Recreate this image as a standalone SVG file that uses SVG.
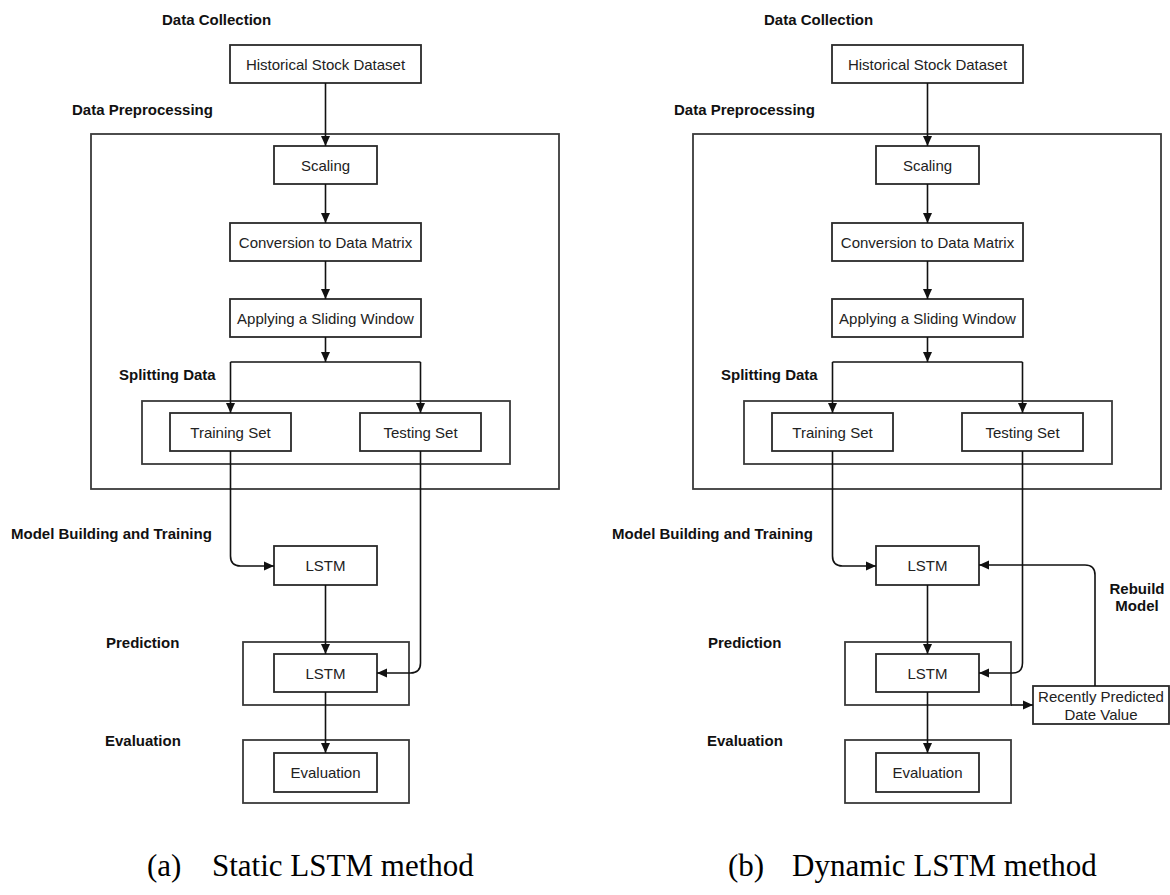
<svg xmlns="http://www.w3.org/2000/svg" width="1170" height="895" viewBox="0 0 1170 895">
<defs>
<marker id="ah" markerUnits="userSpaceOnUse" markerWidth="10" markerHeight="10" refX="10" refY="5" orient="auto">
<path d="M0,0.5 L10,5 L0,9.5 z" fill="#111"/>
</marker>
<style>
.box{fill:#fff;stroke:#2a2a2a;stroke-width:1.8}
.grp{fill:none;stroke:#3a3a3a;stroke-width:1.8}
.t{font-family:"Liberation Sans",Arial,sans-serif;font-size:15px;fill:#222;text-anchor:middle}
.lbl{font-family:"Liberation Sans",Arial,sans-serif;font-size:15px;font-weight:bold;fill:#111}
.cap{font-family:"Liberation Serif","Times New Roman",serif;font-size:31px;fill:#000}
.c{fill:none;stroke:#111;stroke-width:1.6}
.ca{fill:none;stroke:#111;stroke-width:1.6;marker-end:url(#ah)}
</style>
</defs>
<rect width="1170" height="895" fill="#fff"/>

<!-- Panel (a) -->
<g id="a-labels">
<text class="lbl" x="162" y="25">Data Collection</text>
<text class="lbl" x="72" y="115">Data Preprocessing</text>
<text class="lbl" x="119" y="380">Splitting Data</text>
<text class="lbl" x="11" y="539">Model Building and Training</text>
<text class="lbl" x="106" y="648">Prediction</text>
<text class="lbl" x="105" y="746">Evaluation</text>
</g>
<g id="a-preprocessing"><rect class="grp" x="91" y="134" width="468" height="355"/></g>
<g id="a-splitting"><rect class="grp" x="142" y="401" width="368" height="63"/></g>
<g id="a-prediction"><rect class="grp" x="243" y="642" width="166" height="63"/></g>
<g id="a-evaluation-group"><rect class="grp" x="243" y="740" width="166" height="63"/></g>
<g id="a-historical"><rect class="box" x="230" y="45" width="191" height="38"/><text class="t" x="325.5" y="69.5">Historical Stock Dataset</text></g>
<g id="a-scaling"><rect class="box" x="274" y="146" width="103" height="38"/><text class="t" x="325.5" y="170.5">Scaling</text></g>
<g id="a-conversion"><rect class="box" x="230" y="223" width="191" height="38"/><text class="t" x="325.5" y="247.5">Conversion to Data Matrix</text></g>
<g id="a-sliding"><rect class="box" x="230" y="299" width="191" height="38"/><text class="t" x="325.5" y="323.5">Applying a Sliding Window</text></g>
<g id="a-training"><rect class="box" x="170" y="413" width="121" height="38"/><text class="t" x="230.5" y="437.5">Training Set</text></g>
<g id="a-testing"><rect class="box" x="360" y="413" width="121" height="38"/><text class="t" x="420.5" y="437.5">Testing Set</text></g>
<g id="a-lstm1"><rect class="box" x="274" y="546" width="103" height="39"/><text class="t" x="325.5" y="571">LSTM</text></g>
<g id="a-lstm2"><rect class="box" x="274" y="654" width="103" height="38"/><text class="t" x="325.5" y="678.5">LSTM</text></g>
<g id="a-evaluation"><rect class="box" x="274" y="753" width="103" height="39"/><text class="t" x="325.5" y="778">Evaluation</text></g>

<!-- Panel (b) -->
<g id="b-labels">
<text class="lbl" x="764" y="25">Data Collection</text>
<text class="lbl" x="674" y="115">Data Preprocessing</text>
<text class="lbl" x="721" y="380">Splitting Data</text>
<text class="lbl" x="612" y="539">Model Building and Training</text>
<text class="lbl" x="708" y="648">Prediction</text>
<text class="lbl" x="707" y="746">Evaluation</text>
<text class="lbl" x="1137" y="594" text-anchor="middle">Rebuild</text>
<text class="lbl" x="1137" y="611" text-anchor="middle">Model</text>
</g>
<g id="b-preprocessing"><rect class="grp" x="693" y="134" width="468" height="355"/></g>
<g id="b-splitting"><rect class="grp" x="744" y="401" width="368" height="63"/></g>
<g id="b-prediction"><rect class="grp" x="845" y="642" width="166" height="63"/></g>
<g id="b-evaluation-group"><rect class="grp" x="845" y="740" width="166" height="63"/></g>
<g id="b-historical"><rect class="box" x="832" y="45" width="191" height="38"/><text class="t" x="927.5" y="69.5">Historical Stock Dataset</text></g>
<g id="b-scaling"><rect class="box" x="876" y="146" width="103" height="38"/><text class="t" x="927.5" y="170.5">Scaling</text></g>
<g id="b-conversion"><rect class="box" x="832" y="223" width="191" height="38"/><text class="t" x="927.5" y="247.5">Conversion to Data Matrix</text></g>
<g id="b-sliding"><rect class="box" x="832" y="299" width="191" height="38"/><text class="t" x="927.5" y="323.5">Applying a Sliding Window</text></g>
<g id="b-training"><rect class="box" x="772" y="413" width="121" height="38"/><text class="t" x="832.5" y="437.5">Training Set</text></g>
<g id="b-testing"><rect class="box" x="962" y="413" width="121" height="38"/><text class="t" x="1022.5" y="437.5">Testing Set</text></g>
<g id="b-lstm1"><rect class="box" x="876" y="546" width="103" height="39"/><text class="t" x="927.5" y="571">LSTM</text></g>
<g id="b-lstm2"><rect class="box" x="876" y="654" width="103" height="38"/><text class="t" x="927.5" y="678.5">LSTM</text></g>
<g id="b-evaluation"><rect class="box" x="876" y="753" width="103" height="39"/><text class="t" x="927.5" y="778">Evaluation</text></g>
<g id="b-recent"><rect class="box" x="1033" y="686" width="136" height="38"/><text class="t" x="1101" y="701.5">Recently Predicted</text><text class="t" x="1101" y="720">Date Value</text></g>

<g id="connectors">
<!-- panel a -->
<path class="ca" d="M325.5,83 V146"/>
<path class="ca" d="M325.5,184 V223"/>
<path class="ca" d="M325.5,261 V299"/>
<path class="ca" d="M325.5,337 V362"/>
<path class="c" d="M230.5,362 H420.5"/>
<path class="ca" d="M230.5,362 V413"/>
<path class="ca" d="M420.5,362 V413"/>
<path class="ca" d="M230.5,451 V556 Q230.5,566 240.5,566 H274"/>
<path class="ca" d="M420.5,451 V663 Q420.5,673 410.5,673 H377"/>
<path class="ca" d="M325.5,585 V654"/>
<path class="ca" d="M325.5,692 V753"/>
<!-- panel b -->
<path class="ca" d="M927.5,83 V146"/>
<path class="ca" d="M927.5,184 V223"/>
<path class="ca" d="M927.5,261 V299"/>
<path class="ca" d="M927.5,337 V362"/>
<path class="c" d="M832.5,362 H1022.5"/>
<path class="ca" d="M832.5,362 V413"/>
<path class="ca" d="M1022.5,362 V413"/>
<path class="ca" d="M832.5,451 V556 Q832.5,566 842.5,566 H876"/>
<path class="ca" d="M1022.5,451 V663 Q1022.5,673 1012.5,673 H979"/>
<path class="ca" d="M927.5,585 V654"/>
<path class="ca" d="M927.5,692 V753"/>
<path class="ca" d="M1011,705 H1033"/>
<path class="ca" d="M1095,686 V575 Q1095,565 1085,565 H979"/>
</g>

<g id="captions">
<text class="cap" x="147" y="876">(a)</text>
<text class="cap" x="212" y="876">Static LSTM method</text>
<text class="cap" x="728" y="876">(b)</text>
<text class="cap" x="792" y="876">Dynamic LSTM method</text>
</g>
</svg>
